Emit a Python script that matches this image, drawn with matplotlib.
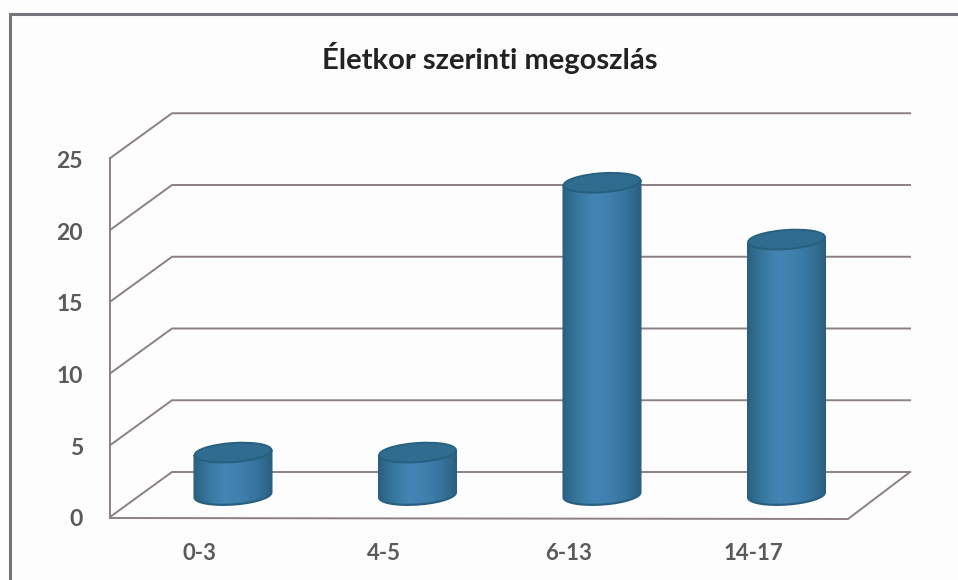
## Age distribution chart, fake 3D cylinders like the Excel original
import numpy as np
import matplotlib
matplotlib.use('Agg')
import matplotlib.pyplot as plt
from matplotlib.path import Path
from matplotlib.patches import PathPatch, Ellipse
from matplotlib.colors import LinearSegmentedColormap

categories = ['0-3', '4-5', '6-13', '14-17']
values = [3, 3, 22, 18]
y_ticks = [0, 5, 10, 15, 20, 25]
title = 'Életkor szerinti megoszlás'

###DEFINE SCALES####################################################
x_first = 233.0    # pixel centre of first cylinder
x_step = 184.5
unit = 14.35       # pixels per value unit on the walls
bar_unit = 14.2    # cylinders sit further back, slightly shorter
floor_front = 517.0
floor_back = 472.0
base_mid = 495.0   # cylinders stand half way into the floor
left_front = 110.0
left_back = 172.0
right_front = 848.0
right_back = 910.0
rx = 38.5
ry = 9.5
tilt = np.radians(-4)

def val_y(v, base, k=unit):
    return base - v*k

def ellipse_xy(cx, cy, t):
    ex = rx*np.cos(t)
    ey = ry*np.sin(t)
    return (cx + ex*np.cos(tilt) - ey*np.sin(tilt),
            cy + ex*np.sin(tilt) + ey*np.cos(tilt))

def cylinder(ax, cx, v):
    top = val_y(v, base_mid, bar_unit)
    # lower half of bottom ellipse, then back over the top ellipse
    t = np.linspace(0, np.pi, 60)
    bx, by = ellipse_xy(cx, base_mid, t)      # y is inverted, so sin>0 is down
    tx, ty = ellipse_xy(cx, top, t[::-1])
    xy = np.column_stack([np.r_[bx, tx], np.r_[by, ty]])
    xy = np.vstack([xy, xy[0]])
    body = PathPatch(Path(xy), facecolor='none', edgecolor='#2a5f80', linewidth=1.6, zorder=3)
    ax.add_patch(body)
    grad = ax.imshow(np.linspace(0, 1, 256).reshape(1, -1), cmap=side_cmap, aspect='auto',
                     extent=[cx-rx, cx+rx, base_mid+ry+2, top-ry-2], zorder=2.9)
    grad.set_clip_path(body)
    ax.add_patch(Ellipse((cx, top), 2*rx, 2*ry, angle=np.degrees(tilt), facecolor='#2f6c90',
                         edgecolor='#27607f', linewidth=1.2, zorder=4))

side_cmap = LinearSegmentedColormap.from_list('side', ['#2a6283', '#38789f', '#4385b5', '#4080ae', '#37749e', '#2b6283'])

###DRAW#############################################################
fig = plt.figure(figsize=(9.58, 5.8), dpi=100, facecolor='#fdfdfd')
ax = fig.add_axes([0, 0, 1, 1])
ax.set_xlim(0, 958)
ax.set_ylim(580, 0)
ax.axis('off')

# outer frame, scan runs off the right and bottom
ax.plot([10, 10, 957], [580, 14, 14], color='#77737a', linewidth=2.2, solid_joinstyle='miter')

wall = '#8b8086'
for v in y_ticks:
    yf = val_y(v, floor_front)
    yb = val_y(v, floor_back)
    ax.plot([left_front, left_back, right_back], [yf, yb, yb], color=wall, linewidth=1.4, zorder=1)
    ax.text(83, yf+3, str(v), ha='right', va='center', fontsize=16.5, family='Lato',
            weight='bold', color='#5a5a5a')
ax.plot([left_front, left_front], [val_y(0, floor_front), val_y(25, floor_front)], color=wall, linewidth=1.4, zorder=1)
ax.plot([left_front, right_front, right_back], [floor_front+1, floor_front+2, floor_back], color=wall, linewidth=1.4, zorder=1)

for i in range(len(categories)):
    cx = x_first + i*x_step
    cylinder(ax, cx, values[i])
    ax.text(cx-33.5, 554, categories[i], ha='center', va='center', fontsize=16, family='Lato',
            weight='bold', color='#5a5a5a')

ax.set_xlim(0, 958)
ax.set_ylim(580, 0)
ax.text(490, 58, title, ha='center', va='center', fontsize=21, family='Lato',
        weight='bold', color='#222222')

fig.savefig('out.png', dpi=100, facecolor=fig.get_facecolor())
